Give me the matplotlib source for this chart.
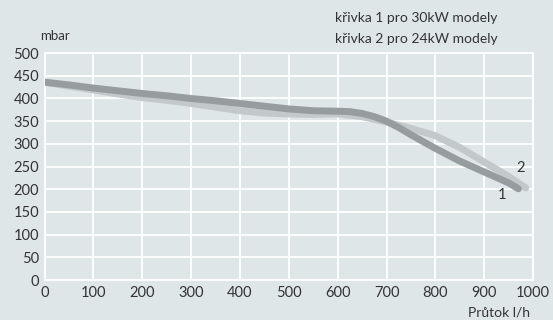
import matplotlib.pyplot as plt

# pressure loss curves, flow in l/h vs. mbar
flow_1 = [0, 50, 100, 150, 200, 250, 300, 350, 400, 450, 500, 550, 600, 625,
          650, 675, 700, 725, 750, 800, 850, 900, 950, 970]
mbar_1 = [436, 430, 423, 417, 411, 406, 400, 395, 389, 383, 377, 373, 372, 371,
          367, 360, 350, 336, 320, 290, 262, 238, 214, 201]

flow_2 = [0, 50, 100, 150, 200, 250, 300, 350, 400, 450, 500, 550, 600, 650,
          700, 750, 800, 850, 900, 950, 985]
mbar_2 = [436, 427, 419, 410, 402, 396, 389, 381, 373, 368, 366, 365, 366, 360,
          348, 334, 318, 292, 260, 228, 203]

x_ticks = [0, 100, 200, 300, 400, 500, 600, 700, 800, 900, 1000]
y_ticks = [0, 50, 100, 150, 200, 250, 300, 350, 400, 450, 500]

bg = "#dfe6e8"
txt = "#333333"
plt.rcParams["font.family"] = ["Lato", "DejaVu Sans"]

fig = plt.figure(figsize=(5.53, 3.2), dpi=100, facecolor=bg)
ax = fig.add_axes([0.0805, 0.125, 0.8835, 0.709], facecolor=bg)

ax.plot(flow_2, mbar_2, color="#c3c8ca", lw=5, solid_capstyle="round",
        solid_joinstyle="round", zorder=3)
ax.plot(flow_1, mbar_1, color="#979c9f", lw=5, solid_capstyle="round",
        solid_joinstyle="round", zorder=4)

ax.text(936, 187, "1", color=txt, fontsize=10.5, ha="center", va="center")
ax.text(975, 247, "2", color=txt, fontsize=10.5, ha="center", va="center")

ax.set_xlim(0, 1000)
ax.set_ylim(0, 500)
ax.set_xticks(x_ticks)
ax.set_yticks(y_ticks)
ax.grid(True, color="white", lw=1.3, zorder=1)
ax.set_axisbelow(True)
for s in ax.spines.values():
    s.set_color("white")
    s.set_linewidth(1.3)
ax.tick_params(length=0, labelsize=10.5, labelcolor=txt, pad=4)

fig.text(0.073, 0.87, "mbar", color=txt, fontsize=9.5, ha="left", va="bottom")
fig.text(0.899, 0.943, "křivka 1 pro 30kW modely", color=txt, fontsize=10,
         ha="right", va="center")
fig.text(0.899, 0.878, "křivka 2 pro 24kW modely", color=txt, fontsize=10,
         ha="right", va="center")
fig.text(0.959, 0.006, "Průtok l/h", color=txt, fontsize=10, ha="right",
         va="bottom")

fig.savefig("out.png", dpi=100, facecolor=bg)
